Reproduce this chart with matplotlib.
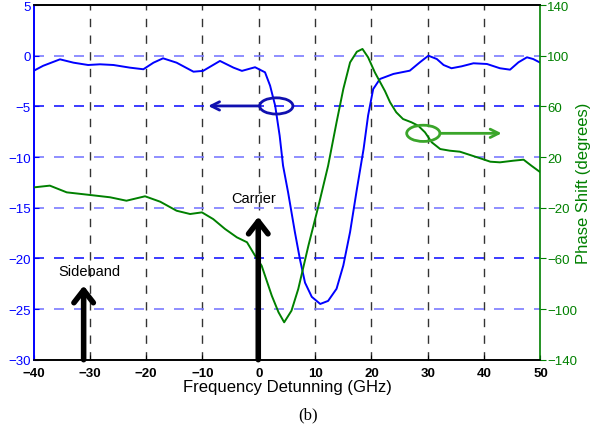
import matplotlib.pyplot as plt
from matplotlib.patches import Ellipse

plt.rcParams["font.family"] = ["Liberation Sans", "DejaVu Sans"]

# transmission (left axis, dB)
blue_f = [-40, -38.3, -35.3, -32.9, -30.3, -28.2, -25.8, -22.9, -20.5, -18.7,
          -17.0, -14.6, -11.6, -9.9, -6.9, -4.5, -3.0, -0.67, 1.1, 2.0, 2.9,
          3.7, 4.3, 5.2, 6.4, 7.3, 8.2, 9.4, 10.9, 12.3, 13.8, 15.0, 16.2,
          17.4, 18.6, 19.4, 20.3, 21.5, 23.9, 26.8, 28.6, 30.1, 31.6, 32.8,
          34.2, 36.0, 38.1, 40.5, 42.8, 44.6, 46.1, 47.6, 48.7, 50.0]
blue_db = [-1.5, -1.0, -0.36, -0.69, -0.92, -0.85, -0.92, -1.18, -1.34, -0.69,
           -0.26, -0.69, -1.58, -1.5, -0.52, -1.18, -1.5, -1.14, -1.64, -2.96,
           -4.93, -7.9, -10.85, -13.5, -17.4, -20.1, -22.4, -23.8, -24.5,
           -24.2, -23.0, -20.7, -17.4, -13.2, -9.2, -5.9, -3.3, -2.3, -1.8,
           -1.48, -0.65, 0.0, -0.33, -0.92, -1.24, -1.05, -0.75, -0.82, -1.24,
           -1.38, -0.65, -0.16, -0.33, -0.7]

# phase shift (right axis, degrees)
green_f = [-40, -37.1, -34.1, -30.3, -26.4, -23.5, -20.2, -17.5, -14.6, -12.2,
           -10.1, -8.1, -6.0, -3.9, -2.1, -0.67, 0.5, 2.3, 3.5, 4.5, 5.8, 7.0,
           8.8, 10.6, 12.3, 13.8, 15.0, 16.2, 17.4, 18.4, 19.4, 20.6, 22.4,
           23.3, 24.4, 25.6, 27.1, 28.3, 29.5, 30.7, 32.2, 33.9, 35.7, 37.5,
           39.3, 41.1, 42.8, 45.2, 47.0, 48.4, 50.0]
green_deg = [-4.0, -2.6, -7.9, -9.8, -11.8, -14.5, -11.0, -15.3, -22.4, -25.0,
             -23.7, -29.0, -36.8, -43.4, -47.3, -57.9, -65.8, -89.5, -102.6,
             -110.5, -101.3, -84.2, -50.0, -18.4, 13.1, 47.4, 73.7, 94.7,
             103.1, 105.3, 98.7, 86.8, 72.0, 63.2, 55.3, 50.0, 47.4, 44.7,
             39.5, 31.6, 26.3, 25.0, 24.2, 21.6, 19.0, 16.3, 15.8, 17.1, 17.9,
             13.1, 7.9]

x_ticks = [-40, -30, -20, -10, 0, 10, 20, 30, 40, 50]
left_ticks = [5, 0, -5, -10, -15, -20, -25, -30]
right_ticks = [140, 100, 60, 20, -20, -60, -100, -140]

BLUE = "#0000ff"
GREEN = "#008000"

fig = plt.figure(figsize=(6.07, 4.39), dpi=100)
ax = fig.add_axes([0.0552, 0.1784, 0.8352, 0.8079])
ax2 = ax.twinx()

for x in x_ticks[1:-1]:
    ax.axvline(x, color="#333333", lw=1, ls=(0, (6, 6)), zorder=1)
for y in left_ticks[1:-1]:
    c = "#1a1aff" if y in (-5, -20) else "#7b7bff"
    ax.axhline(y, color=c, lw=1.2, ls=(0, (6, 6)), zorder=1)

ax.plot(blue_f, blue_db, color=BLUE, lw=1.4, zorder=3,
        solid_joinstyle="round")
ax2.plot(green_f, green_deg, color=GREEN, lw=1.4, zorder=3,
         solid_joinstyle="round")

ax.set_xlim(-40, 50)
ax.set_ylim(-30, 5)
ax2.set_ylim(-140, 140)
ax.set_xticks(x_ticks)
ax.set_yticks(left_ticks)
ax2.set_yticks(right_ticks)

ax.tick_params(axis="x", direction="in", labelsize=9.5, colors="black", pad=5)
for lab in ax.get_xticklabels():
    lab.set_fontweight("bold")
ax.tick_params(axis="y", direction="in", labelsize=9.5, colors=BLUE, pad=2)
ax2.tick_params(axis="y", direction="out", labelsize=9.5, colors=GREEN,
                length=4, pad=1)
ax.spines["left"].set_color(BLUE)
ax2.spines["left"].set_color(BLUE)
ax2.spines["right"].set_color(GREEN)
ax.spines["right"].set_visible(False)
for a in (ax, ax2):
    for s in a.spines.values():
        s.set_linewidth(1.2)

ax.set_xlabel("Frequency Detunning (GHz)", fontsize=12, labelpad=0)
ax2.set_ylabel("Phase Shift (degrees)", fontsize=12, color=GREEN, labelpad=-1)

ax2.set_zorder(ax.get_zorder() + 1)
ax2.patch.set_visible(False)

# ellipses with pointing arrows
ax.add_patch(Ellipse((3.1, -4.96), 5.9, 1.6, fill=False, ec="#1010b0",
                     lw=2, zorder=4))
ax.annotate("", xy=(-9.0, -4.96), xytext=(0.2, -4.96),
            arrowprops=dict(arrowstyle="->,head_length=0.6,head_width=0.3",
                            color="#1010b0", lw=2, shrinkA=0, shrinkB=0))
ax2.add_patch(Ellipse((29.2, 38.7), 5.9, 12.8, fill=False, ec="#3aa52a",
                      lw=2, zorder=4))
ax2.annotate("", xy=(43.1, 38.7), xytext=(32.2, 38.7),
             arrowprops=dict(arrowstyle="->,head_length=0.6,head_width=0.3",
                             color="#3aa52a", lw=2, shrinkA=0, shrinkB=0))

# sideband / carrier markers
head = "->,head_length=0.45,head_width=0.35"
ax2.annotate("", xy=(-31.1, -81.6), xytext=(-31.1, -140),
             arrowprops=dict(arrowstyle=head, color="black", lw=4,
                             mutation_scale=20, shrinkA=0, shrinkB=0))
ax2.annotate("", xy=(-0.1, -27.2), xytext=(-0.1, -140),
             arrowprops=dict(arrowstyle=head, color="black", lw=4,
                             mutation_scale=20, shrinkA=0, shrinkB=0))
ax.text(-30, -21.2, "Sideband", fontsize=10.5, ha="center", va="center")
ax.text(-1.0, -14.0, "Carrier", fontsize=10.5, ha="center", va="center")

fig.text(0.507, 0.053, "(b)", fontsize=12, family="Liberation Serif",
         ha="center", va="center")

fig.savefig("out.png", dpi=100)
